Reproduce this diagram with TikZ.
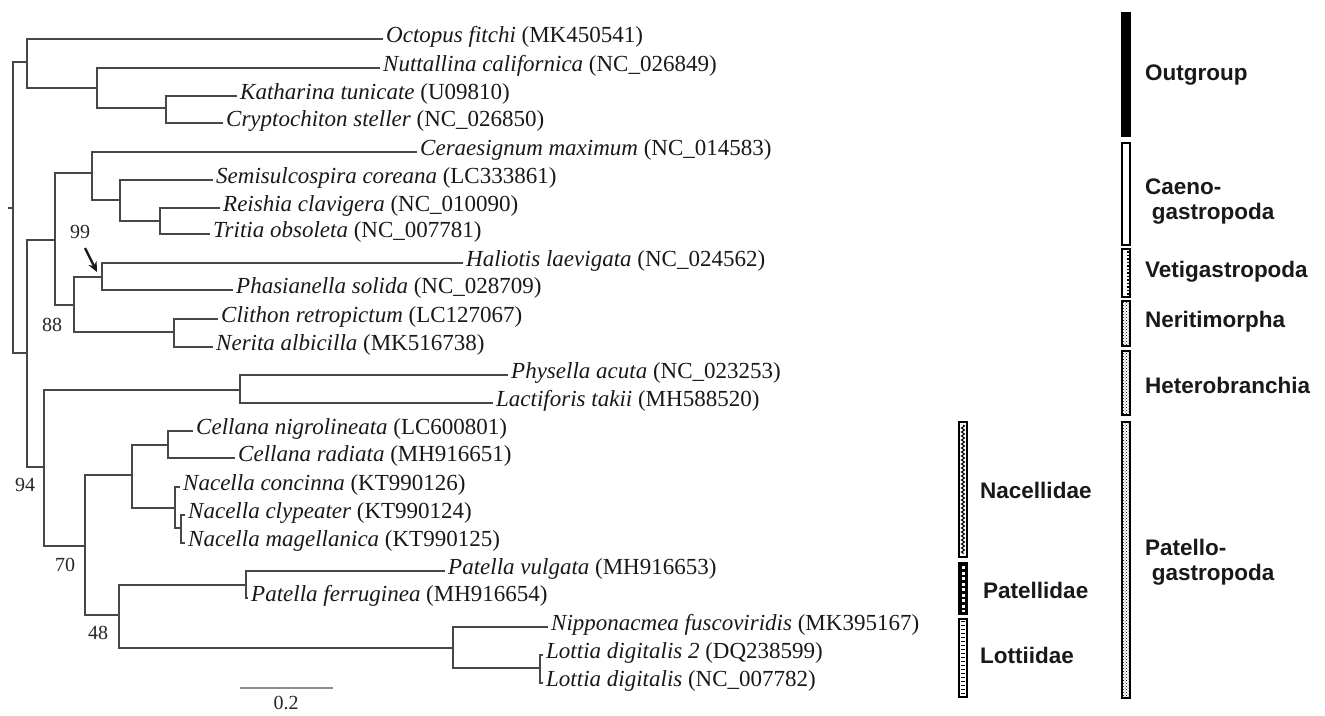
\documentclass[tikz,border=0pt]{standalone}
\usepackage{fontspec}
\setmainfont{Liberation Serif}
\newfontfamily\labfont{Liberation Sans}
\usetikzlibrary{patterns,decorations.pathmorphing,arrows.meta}
\tikzset{
  br/.style={draw=black!72, line width=2.2pt},
  leaflab/.style={anchor=west, inner xsep=3pt, inner ysep=0pt, text height=0.7em, text depth=0pt, text=black!90, font=\fontsize{23}{23}\selectfont},
  boot/.style={inner sep=0pt, text=black!85, font=\fontsize{20}{20}\selectfont},
  grp/.style={anchor=west, inner sep=0pt, align=left, text=black!90, font=\labfont\bfseries\fontsize{22.5}{25}\selectfont},
  barframe/.style={draw=black, line width=1.5pt},
}
\begin{document}
\begin{tikzpicture}[x=1pt,y=-1pt]
\fill[white] (0,0) rectangle (1325,715);
\useasboundingbox (0,0) rectangle (1325,715);

% internal nodes
\coordinate (rs) at (8,208);
\coordinate (r0) at (13,208);
\coordinate (A) at (27,62);
\coordinate (B) at (27,353);
\coordinate (C) at (97,88);
\coordinate (D) at (166,108);
\coordinate (E) at (55,240);
\coordinate (F) at (44,467);
\coordinate (G) at (92,173);
\coordinate (H) at (74,305);
\coordinate (I) at (120,200);
\coordinate (J) at (160,221);
\coordinate (K) at (102,277);
\coordinate (L) at (174,332);
\coordinate (M) at (240,390);
\coordinate (N) at (85,546);
\coordinate (O) at (132,475);
\coordinate (P) at (119,615);
\coordinate (Q) at (168,445);
\coordinate (R) at (175,508);
\coordinate (S) at (181,528);
\coordinate (T) at (246,585);
\coordinate (U) at (453,648);
\coordinate (V) at (540,668);

% leaves
\node[leaflab] (l1) at (383,39) {\textit{Octopus fitchi} (MK450541)};
\node[leaflab] (l2) at (380,68) {\textit{Nuttallina californica} (NC\_026849)};
\node[leaflab] (l3) at (237,96) {\textit{Katharina tunicate} (U09810)};
\node[leaflab] (l4) at (223,123) {\textit{Cryptochiton steller} (NC\_026850)};
\node[leaflab] (l5) at (417,152) {\textit{Ceraesignum maximum} (NC\_014583)};
\node[leaflab] (l6) at (213,180) {\textit{Semisulcospira coreana} (LC333861)};
\node[leaflab] (l7) at (220,208) {\textit{Reishia clavigera} (NC\_010090)};
\node[leaflab] (l8) at (210,234) {\textit{Tritia obsoleta} (NC\_007781)};
\node[leaflab] (l9) at (463,263) {\textit{Haliotis laevigata} (NC\_024562)};
\node[leaflab] (l10) at (233,290) {\textit{Phasianella solida} (NC\_028709)};
\node[leaflab] (l11) at (218,319) {\textit{Clithon retropictum} (LC127067)};
\node[leaflab] (l12) at (213,347) {\textit{Nerita albicilla} (MK516738)};
\node[leaflab] (l13) at (508,375) {\textit{Physella acuta} (NC\_023253)};
\node[leaflab] (l14) at (493,403) {\textit{Lactiforis takii} (MH588520)};
\node[leaflab] (l15) at (193,431) {\textit{Cellana nigrolineata} (LC600801)};
\node[leaflab] (l16) at (235,458) {\textit{Cellana radiata} (MH916651)};
\node[leaflab] (l17) at (180,487) {\textit{Nacella concinna} (KT990126)};
\node[leaflab] (l18) at (185,515) {\textit{Nacella clypeater} (KT990124)};
\node[leaflab] (l19) at (185,543) {\textit{Nacella magellanica} (KT990125)};
\node[leaflab] (l20) at (445,571) {\textit{Patella vulgata} (MH916653)};
\node[leaflab] (l21) at (248,598) {\textit{Patella ferruginea} (MH916654)};
\node[leaflab] (l22) at (548,627) {\textit{Nipponacmea fuscoviridis} (MK395167)};
\node[leaflab] (l23) at (543,655) {\textit{Lottia digitalis 2} (DQ238599)};
\node[leaflab] (l24) at (543,683) {\textit{Lottia digitalis} (NC\_007782)};

% branches
\draw[br] (rs) -- (r0);
\draw[br] (r0) |- (A);  \draw[br] (r0) |- (B);
\draw[br] (A) |- (l1.west);  \draw[br] (A) |- (C);
\draw[br] (C) |- (l2.west);  \draw[br] (C) |- (D);
\draw[br] (D) |- (l3.west);  \draw[br] (D) |- (l4.west);
\draw[br] (B) |- (E);  \draw[br] (B) |- (F);
\draw[br] (E) |- (G);  \draw[br] (E) |- (H);
\draw[br] (G) |- (l5.west);  \draw[br] (G) |- (I);
\draw[br] (I) |- (l6.west);  \draw[br] (I) |- (J);
\draw[br] (J) |- (l7.west);  \draw[br] (J) |- (l8.west);
\draw[br] (H) |- (K);  \draw[br] (H) |- (L);
\draw[br] (K) |- (l9.west);  \draw[br] (K) |- (l10.west);
\draw[br] (L) |- (l11.west);  \draw[br] (L) |- (l12.west);
\draw[br] (F) |- (M);  \draw[br] (F) |- (N);
\draw[br] (M) |- (l13.west);  \draw[br] (M) |- (l14.west);
\draw[br] (N) |- (O);  \draw[br] (N) |- (P);
\draw[br] (O) |- (Q);  \draw[br] (O) |- (R);
\draw[br] (Q) |- (l15.west);  \draw[br] (Q) |- (l16.west);
\draw[br] (R) |- (l17.west);  \draw[br] (R) |- (S);
\draw[br] (S) |- (l18.west);  \draw[br] (S) |- (l19.west);
\draw[br] (P) |- (T);  \draw[br] (P) |- (U);
\draw[br] (T) |- (l20.west);  \draw[br] (T) |- (l21.west);
\draw[br] (U) |- (l22.west);  \draw[br] (U) |- (V);
\draw[br] (V) |- (l23.west);  \draw[br] (V) |- (l24.west);

% bootstrap values
\node[boot] (b99) at (80,232) {99};
\node[boot] (b88) at (52,325) {88};
\node[boot] (b94) at (25,485) {94};
\node[boot] (b70) at (65,565) {70};
\node[boot] (b48) at (98,633) {48};
\coordinate (a1) at (85,248);
\coordinate (a2) at (97,272);
\draw[line width=2.4pt, black!90, -{Stealth[length=10pt,width=9pt]}] (a1) -- (a2);

% scale bar
\coordinate (s1) at (240,688);
\coordinate (s2) at (333,688);
\draw[line width=1.5pt, black!45] (s1) -- (s2);
\node[boot] (s0) at (286,703) {0.2};

% group bars
\fill[black] (1121,12) rectangle (1131,137);
\draw[barframe, fill=white] (1122,143) rectangle (1130,245);
\draw[barframe, fill=white] (1122,249) rectangle (1130,297);
\draw[line width=2pt, dash pattern=on 1.5pt off 2pt] (1127.5,251) -- (1127.5,295);
\draw[barframe, pattern=crosshatch dots] (1122,301) rectangle (1130,346);
\draw[barframe, pattern=crosshatch dots] (1122,351) rectangle (1130,415);
\draw[barframe, pattern=crosshatch dots] (1122,422) rectangle (1130,698);

% family bars
\draw[barframe, fill=white] (959,422) rectangle (967,557);
\draw[line width=1pt, decorate, decoration={zigzag, amplitude=1.5pt, segment length=4pt}] (963,425) -- (963,554);
\draw[barframe, fill=black] (959,563) rectangle (967,614);
\draw[white, line width=3pt, dash pattern=on 3pt off 2.5pt] (963,566) -- (963,612);
\draw[barframe, fill=white] (959,619) rectangle (967,697);
\draw[line width=4pt, dash pattern=on 1.2pt off 2.8pt] (963,621) -- (963,695);

% group labels
\node[grp] (g1) at (1145,75) {Outgroup};
\node[grp] (g2) at (1145,202) {Caeno-\\\hspace{0.3em}gastropoda};
\node[grp] (g3) at (1145,272) {Vetigastropoda};
\node[grp] (g4) at (1145,322) {Neritimorpha};
\node[grp] (g5) at (1145,385) {Heterobranchia};
\node[grp] (g6) at (1145,562) {Patello-\\\hspace{0.3em}gastropoda};
\node[grp] (f1) at (980,490) {Nacellidae};
\node[grp] (f2) at (983,590) {Patellidae};
\node[grp] (f3) at (980,655) {Lottiidae};
\end{tikzpicture}
\end{document}
